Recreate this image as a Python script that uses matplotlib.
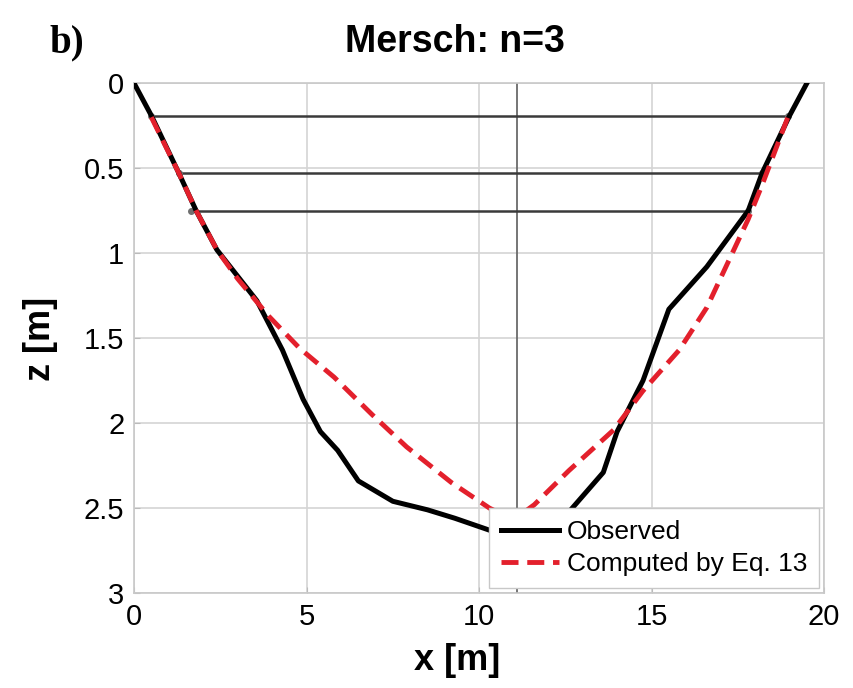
import matplotlib.pyplot as plt

plt.rcParams['font.family'] = ['Liberation Sans', 'DejaVu Sans']

# measured cross-section (x along the section, z depth below bank)
x_obs = [0, 0.5, 1.3, 1.8, 2.4, 3.56, 4.3, 4.9, 5.4, 5.9, 6.5, 7.5, 8.5, 9.3,
         10.3, 11.3, 12.2, 12.7, 13.6, 14.0, 14.75, 15.5, 16.6, 17.8, 18.2,
         19.0, 19.5]
z_obs = [0, 0.19, 0.53, 0.75, 0.98, 1.28, 1.57, 1.86, 2.05, 2.16, 2.34, 2.46,
         2.51, 2.56, 2.63, 2.68, 2.62, 2.5, 2.29, 2.05, 1.75, 1.33, 1.08, 0.75,
         0.53, 0.19, 0]

# profile from Eq. 13
x_eq = [0.5, 1.3, 1.8, 2.4, 3.0, 3.9, 4.8, 5.8, 6.9, 7.9, 9.2, 10.3, 11.0,
        11.6, 12.6, 13.9, 14.75, 15.8, 16.6, 17.8, 18.2, 18.95]
z_eq = [0.2, 0.53, 0.75, 0.98, 1.15, 1.37, 1.56, 1.73, 1.95, 2.14, 2.35, 2.5,
        2.57, 2.48, 2.28, 2.04, 1.81, 1.57, 1.32, 0.8, 0.6, 0.2]

# water levels: depth, left and right bank positions
wl_z = [0.19, 0.53, 0.75]
wl_left = [0.5, 1.3, 1.65]
wl_right = [18.95, 18.2, 17.8]

x_center = 11.1

fig = plt.figure(figsize=(8.54, 6.88), dpi=100)
ax = fig.add_axes([0.157, 0.138, 0.808, 0.741])

for z, xl, xr in zip(wl_z, wl_left, wl_right):
    ax.plot([xl, xr], [z, z], color='#3a3a3a', lw=1.8, marker='o', ms=4,
            mfc='#707070', mec='#707070', zorder=3)

ax.axvline(x_center, color='#6a6a6a', lw=1.3, zorder=2)

ax.plot(x_obs, z_obs, color='black', lw=3.6, label='Observed', zorder=4)
ax.plot(x_eq, z_eq, color='#e3202c', lw=3.5, ls=(0, (3.5, 1.8)),
        label='Computed by Eq. 13', zorder=5)

ax.set_xlim(0, 20)
ax.set_ylim(3, 0)
ax.set_xticks([0, 5, 10, 15, 20])
ax.set_yticks([0, 0.5, 1, 1.5, 2, 2.5, 3])
ax.set_yticklabels(['0', '0.5', '1', '1.5', '2', '2.5', '3'])
ax.grid(True, color='#d4d4d4', lw=1.2)
ax.set_axisbelow(True)
for s in ax.spines.values():
    s.set_color('#c8c8c8')
    s.set_linewidth(1.2)
ax.tick_params(direction='in', length=4, color='#bbbbbb', labelsize=21,
               pad=7)

leg = ax.legend(loc='lower right', fontsize=19, frameon=True, fancybox=False,
                framealpha=1, edgecolor='#c8c8c8', handlelength=2.2,
                handletextpad=0.3, borderpad=0.45, labelspacing=0.3,
                borderaxespad=0.2)
leg.get_frame().set_linewidth(1.0)
leg.set_zorder(10)

fig.text(0.533, 0.939, 'Mersch: n=3', ha='center', va='center',
         fontsize=27, fontweight='bold')
fig.text(0.078, 0.937, 'b)', ha='center', va='center', fontsize=28,
         fontweight='bold', family='Liberation Serif')
fig.text(0.535, 0.040, 'x [m]', ha='center', va='center', fontsize=26,
         fontweight='bold')
fig.text(0.047, 0.508, 'z [m]', ha='center', va='center', fontsize=26,
         fontweight='bold', rotation=90)

fig.savefig('out.png', dpi=100)
